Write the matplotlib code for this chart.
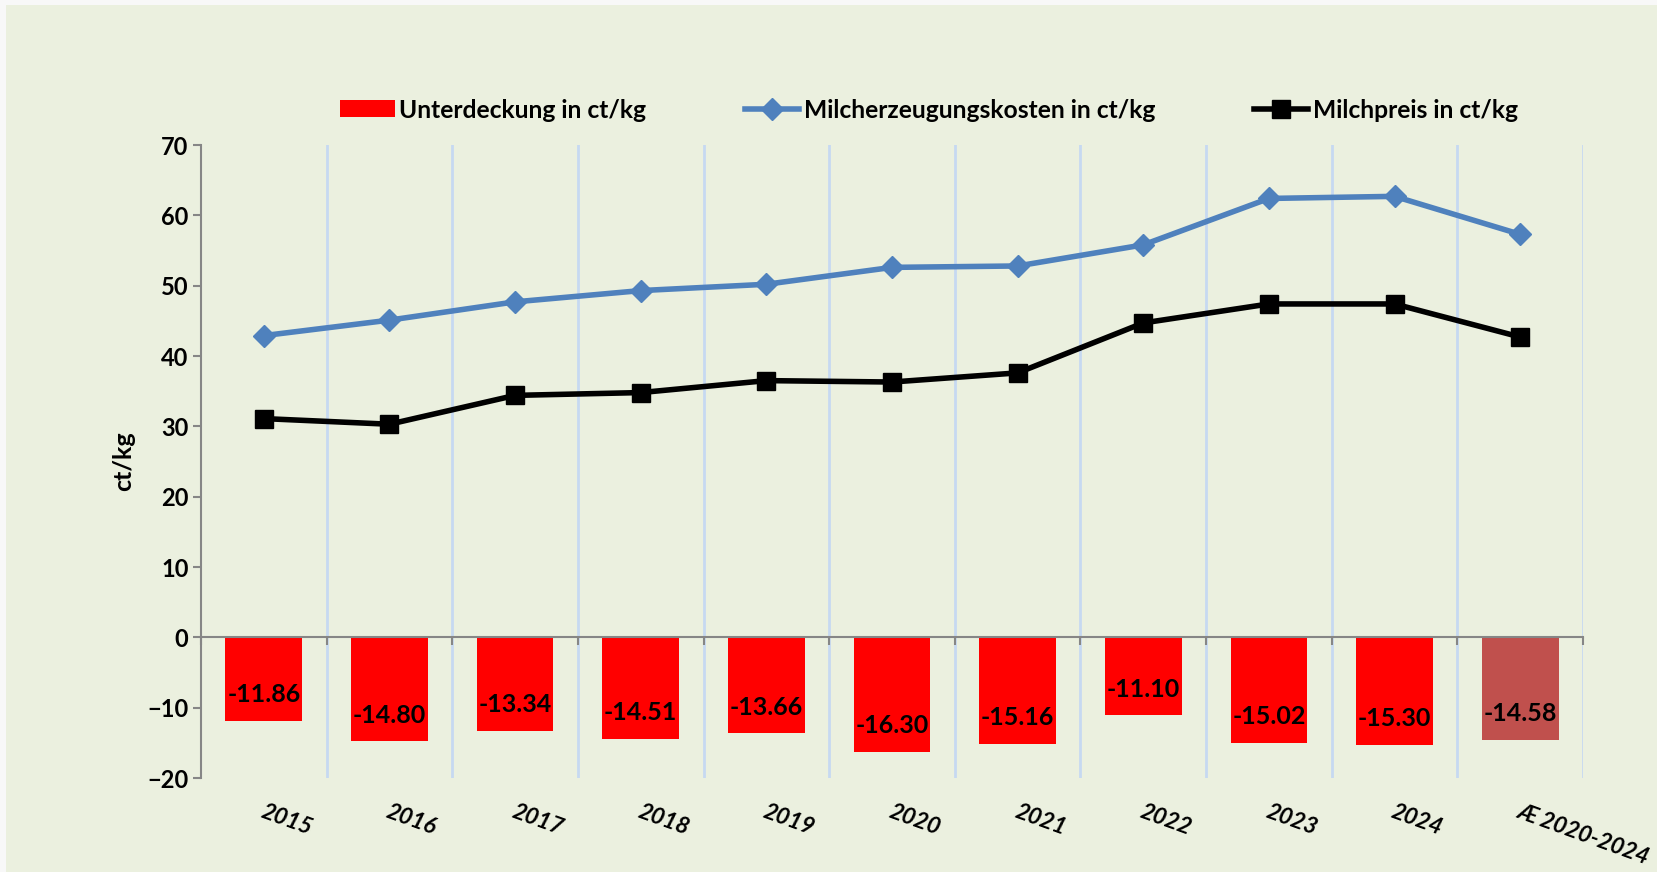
import matplotlib.pyplot as plt
import numpy as np
from matplotlib.patches import Rectangle
from matplotlib.transforms import blended_transform_factory

# data
years = ['2015', '2016', '2017', '2018', '2019', '2020', '2021', '2022', '2023', '2024', 'Æ 2020-2024']
costs = [42.9, 45.1, 47.7, 49.3, 50.2, 52.6, 52.8, 55.8, 62.4, 62.7, 57.3]
price = [31.1, 30.3, 34.4, 34.8, 36.5, 36.3, 37.6, 44.7, 47.4, 47.4, 42.7]
shortfall = [-11.86, -14.80, -13.34, -14.51, -13.66, -16.30, -15.16, -11.10, -15.02, -15.30, -14.58]
bar_colors = ['#FF0000'] * 10 + ['#C0504D']

FONT = 'Lato'
BG = '#EBF0DF'

fig = plt.figure(figsize=(16.58, 8.72), dpi=100, facecolor='#F8F8F8')
# green chart area with a thin light frame at top/left
fig.patches.append(Rectangle((6 / 1658, 0), 1, 1 - 5 / 872, transform=fig.transFigure,
                             facecolor=BG, edgecolor='none', zorder=-10))

ax = fig.add_axes([201 / 1658, 1 - 778 / 872, (1583 - 201) / 1658, (778 - 145) / 872])
ax.set_facecolor('none')

x = np.arange(len(years))

# category separators
for b in x[1:] - 0.5:
    ax.axvline(b, color='#C6D9F1', lw=2.0, zorder=1)
ax.axvline(x[-1] + 0.5, color='#C6D9F1', lw=2.0, zorder=1)

bars = ax.bar(x, shortfall, width=0.61, color=bar_colors, zorder=2)
cost_line, = ax.plot(x, costs, color='#4F81BD', lw=4, marker='D', ms=11, zorder=4)
price_line, = ax.plot(x, price, color='black', lw=4, marker='s', ms=13, zorder=4)

# values inside the bars, near the bar end
for xi, v in zip(x, shortfall):
    ax.annotate(f'{v:.2f}', (xi, v), xytext=(0, 19), textcoords='offset points',
                ha='center', va='center', fontsize=18, fontweight='bold', family=FONT, zorder=5)

ax.set_xlim(-0.5, len(years) - 0.5)
ax.set_ylim(-20, 70)
ax.set_yticks(range(-20, 71, 10))

# x axis sits at y = 0, ticks on category boundaries
ax.spines['bottom'].set_position(('data', 0))
ax.spines['bottom'].set_color('#868686')
ax.spines['left'].set_color('#868686')
ax.spines['bottom'].set_linewidth(1.5)
ax.spines['left'].set_linewidth(1.5)
ax.spines['top'].set_visible(False)
ax.spines['right'].set_visible(False)
ax.set_xticks(np.append(x - 0.5, x[-1] + 0.5))
ax.set_xticklabels([])
ax.tick_params(axis='x', length=6, width=1.5, color='#868686', direction='out')
ax.tick_params(axis='y', length=6, width=1.5, color='#868686', direction='out', pad=3,
               labelsize=17)
for lab in ax.get_yticklabels():
    lab.set_fontweight('bold')
    lab.set_family(FONT)

# category labels below the plot area, anchored at their start
trans = blended_transform_factory(ax.transData, ax.transAxes)
for xi, name in zip(x, years):
    ax.text(xi + 0.01, -0.037, name, transform=trans, rotation=-20, rotation_mode='anchor',
            ha='left', va='top', fontsize=16.5, fontweight='bold', style='italic', family=FONT)

ax.set_ylabel('ct/kg', fontsize=18, fontweight='bold', family=FONT, labelpad=9)

fig.legend([bars, cost_line, price_line],
           ['Unterdeckung in ct/kg', 'Milcherzeugungskosten in ct/kg', 'Milchpreis in ct/kg'],
           loc='center', bbox_to_anchor=(929 / 1658, 1 - 110 / 872), ncol=3, frameon=False,
           prop={'family': FONT, 'weight': 'bold', 'size': 17.7}, handlelength=2.2,
           handletextpad=0.2, columnspacing=4.0)

fig.savefig('out.png', dpi=100, facecolor=fig.get_facecolor())
